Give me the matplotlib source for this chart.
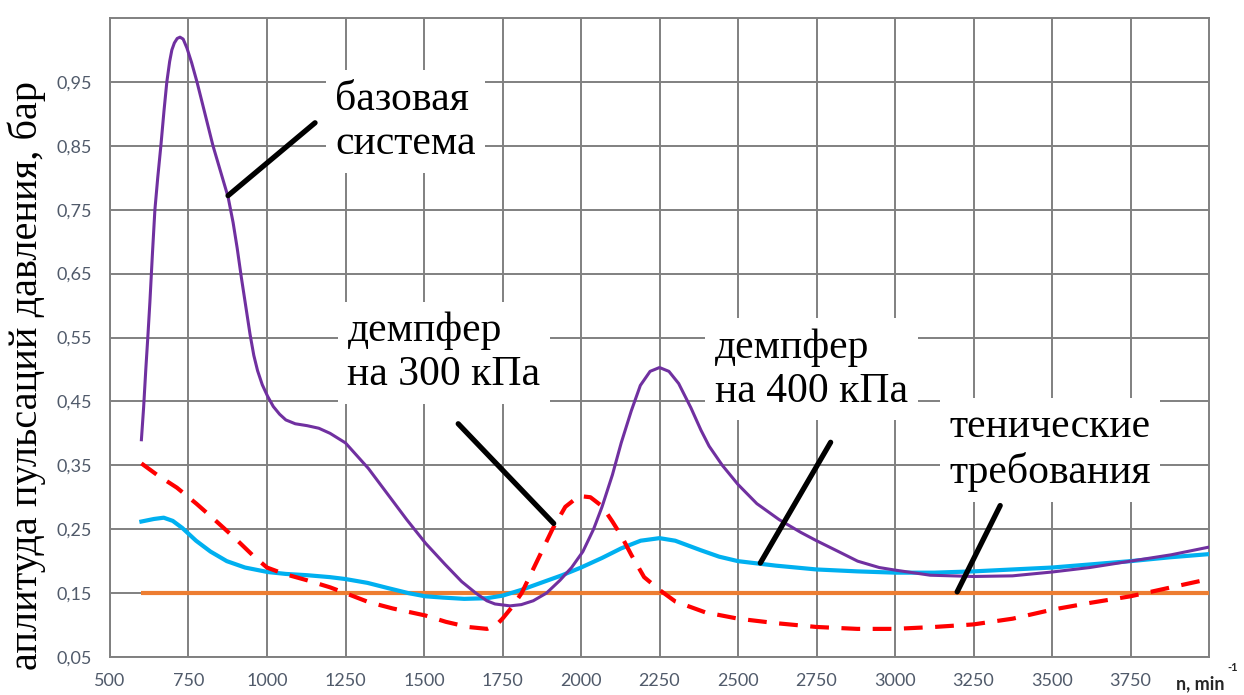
import matplotlib
matplotlib.use('Agg')
import matplotlib.pyplot as plt

# n, min^-1 and pulsation amplitude readings (bar)
base_x = [600, 607, 614, 621, 627, 635, 643, 652, 662, 672, 681, 690, 697, 705, 714, 723, 733,
          745, 760, 777, 800, 828, 852, 876, 892, 905, 918, 932, 946, 958, 970, 985, 1002, 1020,
          1040, 1060, 1090, 1128, 1165, 1201, 1250, 1323, 1384, 1445, 1505, 1567, 1620, 1665,
          1700, 1726, 1774, 1810, 1848, 1890, 1933, 1970, 2006, 2040, 2067, 2100, 2128, 2160,
          2189, 2220, 2250, 2280, 2311, 2350, 2382, 2408, 2450, 2500, 2560, 2631, 2700, 2750,
          2820, 2881, 2950, 3000, 3112, 3250, 3374, 3500, 3620, 3750, 3880, 4000]
base_y = [0.39, 0.44, 0.50, 0.555, 0.605, 0.68, 0.75, 0.80, 0.85, 0.905, 0.95, 0.982, 1.0, 1.011,
          1.018, 1.02, 1.017, 1.003, 0.98, 0.95, 0.905, 0.85, 0.81, 0.77, 0.73, 0.69, 0.645, 0.60,
          0.555, 0.522, 0.498, 0.476, 0.458, 0.442, 0.43, 0.421, 0.415, 0.412, 0.408, 0.40, 0.385,
          0.345, 0.305, 0.265, 0.228, 0.195, 0.168, 0.15, 0.138, 0.133, 0.13, 0.132, 0.138, 0.15,
          0.17, 0.19, 0.215, 0.25, 0.285, 0.335, 0.385, 0.435, 0.475, 0.497, 0.503, 0.497, 0.478,
          0.44, 0.405, 0.38, 0.35, 0.32, 0.29, 0.265, 0.245, 0.232, 0.215, 0.20, 0.19, 0.186,
          0.178, 0.176, 0.177, 0.183, 0.19, 0.20, 0.21, 0.222]

d400_x = [600, 640, 671, 700, 730, 774, 820, 872, 930, 1002, 1060, 1128, 1200, 1250, 1320, 1384,
          1450, 1504, 1560, 1628, 1700, 1750, 1810, 1872, 1940, 2000, 2067, 2128, 2190, 2250,
          2300, 2382, 2440, 2500, 2620, 2750, 2880, 3000, 3125, 3250, 3375, 3500, 3625, 3750,
          3875, 4000]
d400_y = [0.262, 0.266, 0.268, 0.263, 0.252, 0.232, 0.215, 0.20, 0.19, 0.183, 0.18, 0.178, 0.175,
          0.172, 0.166, 0.158, 0.15, 0.145, 0.143, 0.141, 0.142, 0.146, 0.155, 0.166, 0.178, 0.19,
          0.205, 0.22, 0.232, 0.236, 0.232, 0.217, 0.207, 0.20, 0.193, 0.187, 0.184, 0.182, 0.182,
          0.184, 0.187, 0.19, 0.195, 0.20, 0.206, 0.211]

d300_x = [600, 650, 713, 775, 835, 900, 957, 1000, 1055, 1128, 1201, 1260, 1323, 1400, 1504, 1570,
          1640, 1701, 1730, 1750, 1780, 1811, 1860, 1909, 1950, 1994, 2030, 2067, 2100, 2128, 2160,
          2201, 2250, 2300, 2395, 2500, 2620, 2750, 2880, 3000, 3125, 3250, 3375, 3500, 3625, 3750,
          3870, 4000]
d300_y = [0.353, 0.335, 0.315, 0.29, 0.264, 0.235, 0.208, 0.19, 0.18, 0.17, 0.159, 0.148, 0.136,
          0.126, 0.115, 0.105, 0.097, 0.094, 0.10, 0.11, 0.128, 0.15, 0.20, 0.25, 0.285, 0.302,
          0.30, 0.286, 0.262, 0.24, 0.21, 0.175, 0.155, 0.137, 0.12, 0.11, 0.103, 0.097, 0.094,
          0.094, 0.097, 0.101, 0.11, 0.124, 0.135, 0.145, 0.158, 0.172]

req_x = [600, 4000]
req_y = [0.15, 0.15]

x_ticks = [500, 750, 1000, 1250, 1500, 1750, 2000, 2250, 2500, 2750, 3000, 3250, 3500, 3750]
y_ticks = [0.05, 0.15, 0.25, 0.35, 0.45, 0.55, 0.65, 0.75, 0.85, 0.95]

# axis numbers in Lato (Calibri-like); the Liberation Sans face is left out entirely
tick_font = 'Lato'

fig = plt.figure(figsize=(12.44, 6.95), dpi=100)
ax = fig.add_axes([110 / 1244, 1 - 657 / 695, (1209 - 110) / 1244, (657 - 18) / 695])

ax.plot(req_x, req_y, color='#ED7D31', lw=3.0, zorder=3, solid_capstyle='butt')
ax.plot(d400_x, d400_y, color='#00B0F0', lw=3.0, zorder=4)
ax.plot(base_x, base_y, color='#7030A0', lw=2.2, zorder=5)
ax.plot(d300_x, d300_y, color='#FF0000', lw=3.0, zorder=6, dashes=(4.5, 3))

ax.set_xlim(500, 4000)
ax.set_ylim(0.05, 1.05)
ax.set_xticks(x_ticks)
ax.set_xticklabels([str(v) for v in x_ticks])
ax.set_yticks(y_ticks)
ax.set_yticklabels([('%.2f' % v).replace('.', ',') for v in y_ticks])
ax.grid(True, color='#808080', lw=1.4)
ax.set_axisbelow(True)
for s in ax.spines.values():
    s.set_color('#808080')
    s.set_linewidth(1.4)
ax.tick_params(length=0, labelsize=13, labelcolor='#505a6a', labelfontfamily=tick_font)
ax.tick_params(axis='x', pad=11.5)
ax.tick_params(axis='y', pad=13)

ax.text(3971, 0.008, 'n, min', ha='center', va='center', fontsize=13, fontweight='bold',
        color='#262626', family=tick_font, clip_on=False)
ax.text(4075, 0.034, '-1', ha='center', va='center', fontsize=8, fontweight='bold',
        color='#262626', family=tick_font, clip_on=False)

fig.text(27 / 1244, 1 - 375 / 695, 'аплитуда пульсаций давления, бар', rotation=90,
         ha='center', va='center', fontsize=29, family='Liberation Serif')

box = dict(facecolor='white', edgecolor='none', pad=7)
txt = dict(fontsize=30, family='Liberation Serif', va='center', ha='left', zorder=2,
           linespacing=1.2)
ax.text(1217, 0.888, 'базовая\nсистема', bbox=dict(box), **txt)
ax.text(1256, 0.526, 'демпфер\nна 300 кПа', bbox=dict(box), **txt)
ax.text(2427, 0.50, 'демпфер\nна 400 кПа', bbox=dict(box), **txt)
ax.text(3173, 0.374, 'тенические\nтребования', bbox=dict(box), **txt)

ptr = dict(arrowstyle='-', lw=3.8, color='black', shrinkA=0, shrinkB=0)
ax.annotate('', xy=(876, 0.772), xytext=(1153, 0.886), arrowprops=ptr, zorder=7)
ax.annotate('', xy=(1913, 0.259), xytext=(1609, 0.415), arrowprops=ptr, zorder=7)
ax.annotate('', xy=(2571, 0.197), xytext=(2795, 0.386), arrowprops=ptr, zorder=7)
ax.annotate('', xy=(3198, 0.152), xytext=(3335, 0.287), arrowprops=ptr, zorder=7)

fig.savefig('out.png', dpi=100)
